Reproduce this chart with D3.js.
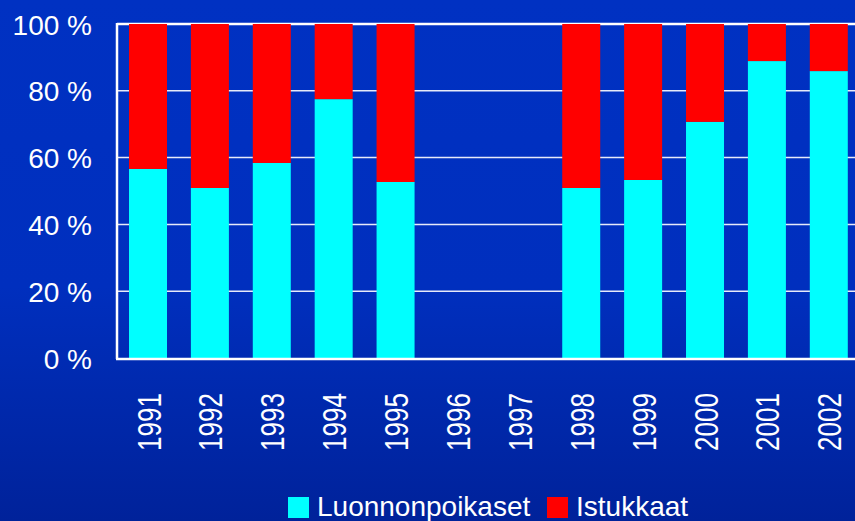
<!DOCTYPE html>
<html><head><meta charset="utf-8">
<script src="https://cdn.jsdelivr.net/npm/d3@7"></script>
<style>html,body{margin:0;padding:0;overflow:hidden;background:#0030c0}</style>
</head><body>
<svg id="c" width="855" height="521"></svg>
<script>
const years = ["1991","1992","1993","1994","1995","1996","1997","1998","1999","2000","2001","2002"];
const luonnon = [56.6, 50.9, 58.4, 77.5, 52.7, null, null, 50.9, 53.3, 70.7, 88.9, 85.9];
const istukkaat = [43.4, 49.1, 41.6, 22.5, 47.3, null, null, 49.1, 46.7, 29.3, 11.1, 14.1];
const yTicks = [0, 20, 40, 60, 80, 100];
const seriesNames = ["Luonnonpoikaset", "Istukkaat"];
const seriesColors = ["#00ffff", "#ff0000"];

(function(){
const svg = d3.select("#c");
const W = 855, H = 521;
const defs = svg.append("defs");
const g = defs.append("linearGradient").attr("id","bg").attr("x1",0).attr("y1",0).attr("x2",0).attr("y2",1);
g.append("stop").attr("offset","0").attr("stop-color","#0031c2");
g.append("stop").attr("offset","0.55").attr("stop-color","#002fbe");
g.append("stop").attr("offset","1").attr("stop-color","#00229a");
svg.append("rect").attr("width",W).attr("height",H).attr("fill","url(#bg)");

const mLeft = 117, mTop = 24, mBottom = 358;
const step = 61.9;
const x = d3.scaleBand().domain(years).range([mLeft, mLeft + 12*step]).paddingInner(0.386).paddingOuter(0.194);
const y = d3.scaleLinear().domain([0,100]).range([mBottom, mTop]);

svg.append("g").selectAll("line").data(yTicks.filter(t=>t>0)).join("line")
  .attr("x1", mLeft).attr("x2", W).attr("y1", d=>y(d)).attr("y2", d=>y(d))
  .attr("stroke","#ffffff").attr("stroke-width", d=>d===100?2.5:1.5).attr("stroke-opacity", d=>d===100?1:0.9);

const data = years.map((yr,i)=>({yr, a: luonnon[i], b: istukkaat[i]})).filter(d=>d.a!=null);
const stack = d3.stack().keys(["a","b"])(data);
svg.append("g").selectAll("g").data(stack).join("g")
  .attr("fill",(d,i)=>seriesColors[i])
  .selectAll("rect").data(d=>d).join("rect")
  .attr("x", d=>x(d.data.yr)).attr("width", x.bandwidth())
  .attr("y", d=>y(d[1])).attr("height", d=>y(d[0])-y(d[1]));

svg.append("line").attr("x1",mLeft).attr("x2",mLeft).attr("y1",mTop-1).attr("y2",mBottom+1).attr("stroke","#fff").attr("stroke-width",2.5);
svg.append("line").attr("x1",mLeft-1).attr("x2",W).attr("y1",mBottom+1).attr("y2",mBottom+1).attr("stroke","#fff").attr("stroke-width",2.5);

const yAxis = d3.axisLeft(y).tickValues(yTicks).tickFormat(d=>d+" %").tickSize(0).tickPadding(25);
const ya = svg.append("g").attr("transform",`translate(${mLeft},0)`).call(yAxis);
ya.select(".domain").remove();
ya.selectAll("text").attr("fill","#fff").attr("font-family","Liberation Sans, Arial, sans-serif").attr("font-size",28).attr("dy","0.36em");

const xa = svg.append("g");
xa.selectAll("text").data(years).join("text")
  .attr("transform", d=>`translate(${x(d)+x.bandwidth()/2+12.5},${451}) rotate(-90) scale(1,1.28)`)
  .attr("fill","#fff").attr("font-family","Liberation Sans, Arial, sans-serif").attr("font-size",26)
  .text(d=>d);

const leg = svg.append("g");
const lx = [288, 547];
seriesNames.forEach((n,i)=>{
  leg.append("rect").attr("x",lx[i]).attr("y",497).attr("width",21).attr("height",21).attr("fill",seriesColors[i]);
  leg.append("text").attr("x",lx[i]+29).attr("y",516).attr("fill","#fff")
    .attr("font-family","Liberation Sans, Arial, sans-serif").attr("font-size",28).text(n);
});
})();
</script>
</body></html>
